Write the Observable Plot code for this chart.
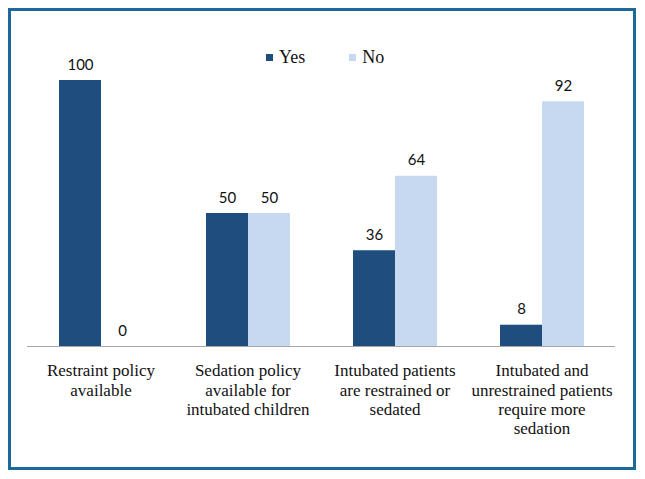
<!DOCTYPE html>
<html>
<head>
<meta charset="utf-8">
<script src="https://cdn.jsdelivr.net/npm/d3@7"></script>
<script src="https://cdn.jsdelivr.net/npm/@observablehq/plot@0.6"></script>
<style>
  html, body { margin: 0; padding: 0; background: #fff; }
  #wrap { position: relative; width: 645px; height: 479px; overflow: hidden; }
  #frame { position: absolute; left: 8px; top: 8px; width: 628px; height: 462px; box-sizing: border-box; border: 3px solid #1b6a99; pointer-events: none; }
  #legend { position: absolute; top: 47px; left: 266px; font-family: "Liberation Serif", "DejaVu Serif", serif; font-size: 18px; color: #111; display: flex; align-items: center; }
  #legend .item { display: flex; align-items: center; }
  #legend .sw { width: 7px; height: 7px; margin-right: 6px; }
  #chart svg { display: block; }
  #chart svg g[aria-label="fx-axis tick label"] text { font-family: "Liberation Serif", "DejaVu Serif", serif; }
</style>
</head>
<body>
<div id="wrap">
  <div id="chart"></div>
  <div id="legend"></div>
  <div id="frame"></div>
</div>
<script>
const categories = [
  "Restraint policy available",
  "Sedation policy available for intubated children",
  "Intubated patients are restrained or sedated",
  "Intubated and unrestrained patients require more sedation"
];
const tickLabels = [
  "Restraint policy\navailable",
  "Sedation policy\navailable for\nintubated children",
  "Intubated patients\nare restrained or\nsedated",
  "Intubated and\nunrestrained patients\nrequire more\nsedation"
];
const series = ["Yes", "No"];
const yesValues = [100, 50, 36, 8];
const noValues = [0, 50, 64, 92];
const colors = ["#1f4e7e", "#c6d9f0"];

const data = [];
categories.forEach((c, i) => {
  data.push({cat: c, answer: "Yes", value: yesValues[i]});
  data.push({cat: c, answer: "No", value: noValues[i]});
});

const chart = Plot.plot({
  width: 645,
  height: 479,
  marginLeft: 27,
  marginRight: 30,
  marginTop: 80,
  marginBottom: 133,
  style: "font-family: 'Liberation Serif', 'DejaVu Serif', serif; font-size: 17px; background: transparent; overflow: visible;",
  fx: {domain: categories, padding: 0, label: null, axis: null},
  x: {domain: series, paddingInner: 0, paddingOuter: 0.75, axis: null},
  y: {domain: [0, 100], axis: null},
  color: {domain: series, range: colors},
  marks: [
    Plot.barY(data, {fx: "cat", x: "answer", y: "value", fill: "answer"}),
    Plot.ruleY([0], {stroke: "#a6a6a6", strokeWidth: 1}),
    Plot.text(data, {
      fx: "cat", x: "answer", y: "value", text: d => String(d.value),
      lineAnchor: "bottom", dy: -11, fontFamily: "Lato, sans-serif", fontSize: 15, fill: "#111"
    }),
    Plot.axisFx({
      domain: categories,
      anchor: "bottom",
      tickSize: 0,
      tickPadding: 16,
      label: null,
      tickFormat: d => tickLabels[categories.indexOf(d)],
      fontSize: 17,
      fontFamily: "'Liberation Serif', 'DejaVu Serif', serif",
      lineHeight: 1.14,
      fill: "#111"
    })
  ]
});
document.getElementById("chart").appendChild(chart);

const legend = document.getElementById("legend");
series.forEach((s, i) => {
  const item = document.createElement("div");
  item.className = "item";
  if (i > 0) item.style.marginLeft = "44px";
  const sw = document.createElement("div");
  sw.className = "sw";
  sw.style.background = colors[i];
  const t = document.createElement("span");
  t.textContent = s;
  item.appendChild(sw);
  item.appendChild(t);
  legend.appendChild(item);
});
</script>
</body>
</html>
